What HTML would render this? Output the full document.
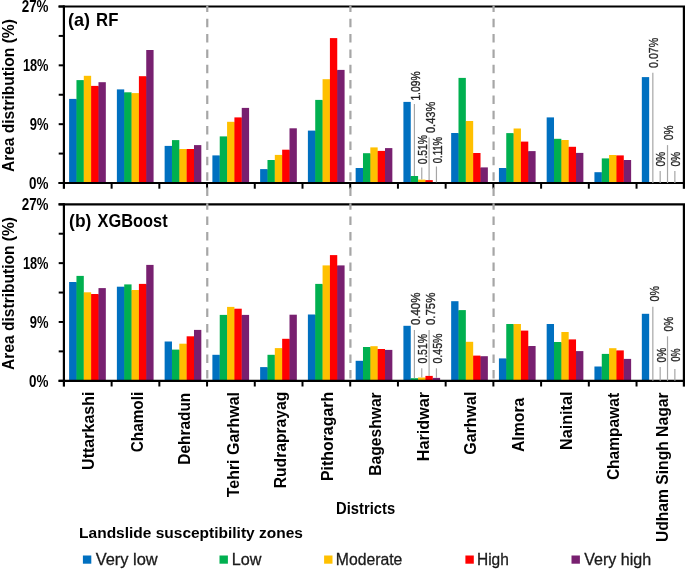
<!DOCTYPE html>
<html><head><meta charset="utf-8"><style>
html,body{margin:0;padding:0;background:#fff;}
svg{display:block;will-change:transform;}
text{font-family:'Liberation Sans',sans-serif;}
</style></head><body>
<svg width="685" height="569" viewBox="0 0 685 569">
<rect width="685" height="569" fill="#fff"/>
<rect x="69.12" y="98.9" width="7.34" height="84.1" fill="#0070C0"/>
<rect x="76.16" y="99.4" width="0.9" height="83.6" fill="#0070C0"/>
<rect x="76.46" y="80.1" width="7.34" height="102.9" fill="#00B050"/>
<rect x="83.5" y="80.6" width="0.9" height="102.4" fill="#00B050"/>
<rect x="83.8" y="75.8" width="7.34" height="107.2" fill="#FFC000"/>
<rect x="90.84" y="86.4" width="0.9" height="96.6" fill="#FFC000"/>
<rect x="91.14" y="85.9" width="7.34" height="97.1" fill="#FF0000"/>
<rect x="98.18" y="86.4" width="0.9" height="96.6" fill="#FF0000"/>
<rect x="98.48" y="82.2" width="7.34" height="100.8" fill="#782070"/>
<rect x="116.88" y="89.4" width="7.34" height="93.6" fill="#0070C0"/>
<rect x="123.92" y="92.8" width="0.9" height="90.2" fill="#0070C0"/>
<rect x="124.22" y="92.3" width="7.34" height="90.7" fill="#00B050"/>
<rect x="131.25" y="93.6" width="0.9" height="89.4" fill="#00B050"/>
<rect x="131.56" y="93.1" width="7.34" height="89.9" fill="#FFC000"/>
<rect x="138.59" y="93.6" width="0.9" height="89.4" fill="#FFC000"/>
<rect x="138.9" y="76.2" width="7.34" height="106.8" fill="#FF0000"/>
<rect x="145.94" y="76.7" width="0.9" height="106.3" fill="#FF0000"/>
<rect x="146.24" y="50" width="7.34" height="133" fill="#782070"/>
<rect x="164.63" y="145.9" width="7.34" height="37.1" fill="#0070C0"/>
<rect x="171.67" y="146.4" width="0.9" height="36.6" fill="#0070C0"/>
<rect x="171.97" y="140.1" width="7.34" height="42.9" fill="#00B050"/>
<rect x="179.01" y="149.5" width="0.9" height="33.5" fill="#00B050"/>
<rect x="179.31" y="149" width="7.34" height="34" fill="#FFC000"/>
<rect x="186.35" y="149.5" width="0.9" height="33.5" fill="#FFC000"/>
<rect x="186.65" y="149" width="7.34" height="34" fill="#FF0000"/>
<rect x="193.69" y="149.5" width="0.9" height="33.5" fill="#FF0000"/>
<rect x="193.99" y="145.1" width="7.34" height="37.9" fill="#782070"/>
<rect x="212.39" y="155.4" width="7.34" height="27.6" fill="#0070C0"/>
<rect x="219.43" y="155.9" width="0.9" height="27.1" fill="#0070C0"/>
<rect x="219.73" y="136.4" width="7.34" height="46.6" fill="#00B050"/>
<rect x="226.77" y="136.9" width="0.9" height="46.1" fill="#00B050"/>
<rect x="227.07" y="121.8" width="7.34" height="61.2" fill="#FFC000"/>
<rect x="234.11" y="122.3" width="0.9" height="60.7" fill="#FFC000"/>
<rect x="234.41" y="117.4" width="7.34" height="65.6" fill="#FF0000"/>
<rect x="241.45" y="117.9" width="0.9" height="65.1" fill="#FF0000"/>
<rect x="241.75" y="107.9" width="7.34" height="75.1" fill="#782070"/>
<rect x="260.14" y="169.1" width="7.34" height="13.9" fill="#0070C0"/>
<rect x="267.18" y="169.6" width="0.9" height="13.4" fill="#0070C0"/>
<rect x="267.48" y="160" width="7.34" height="23" fill="#00B050"/>
<rect x="274.52" y="160.5" width="0.9" height="22.5" fill="#00B050"/>
<rect x="274.82" y="154.9" width="7.34" height="28.1" fill="#FFC000"/>
<rect x="281.86" y="155.4" width="0.9" height="27.6" fill="#FFC000"/>
<rect x="282.16" y="149.7" width="7.34" height="33.3" fill="#FF0000"/>
<rect x="289.2" y="150.2" width="0.9" height="32.8" fill="#FF0000"/>
<rect x="289.5" y="128.3" width="7.34" height="54.7" fill="#782070"/>
<rect x="307.89" y="130.6" width="7.34" height="52.4" fill="#0070C0"/>
<rect x="314.93" y="131.1" width="0.9" height="51.9" fill="#0070C0"/>
<rect x="315.23" y="99.9" width="7.34" height="83.1" fill="#00B050"/>
<rect x="322.27" y="100.4" width="0.9" height="82.6" fill="#00B050"/>
<rect x="322.57" y="79.2" width="7.34" height="103.8" fill="#FFC000"/>
<rect x="329.61" y="79.7" width="0.9" height="103.3" fill="#FFC000"/>
<rect x="329.91" y="38.1" width="7.34" height="144.9" fill="#FF0000"/>
<rect x="336.95" y="70.4" width="0.9" height="112.6" fill="#FF0000"/>
<rect x="337.25" y="69.9" width="7.34" height="113.1" fill="#782070"/>
<rect x="355.65" y="168" width="7.34" height="15" fill="#0070C0"/>
<rect x="362.69" y="168.5" width="0.9" height="14.5" fill="#0070C0"/>
<rect x="362.99" y="153.2" width="7.34" height="29.8" fill="#00B050"/>
<rect x="370.03" y="153.7" width="0.9" height="29.3" fill="#00B050"/>
<rect x="370.33" y="147.4" width="7.34" height="35.6" fill="#FFC000"/>
<rect x="377.37" y="151.4" width="0.9" height="31.6" fill="#FFC000"/>
<rect x="377.67" y="150.9" width="7.34" height="32.1" fill="#FF0000"/>
<rect x="384.71" y="151.4" width="0.9" height="31.6" fill="#FF0000"/>
<rect x="385.01" y="148.1" width="7.34" height="34.9" fill="#782070"/>
<rect x="403.41" y="101.9" width="7.34" height="81.1" fill="#0070C0"/>
<rect x="410.44" y="176.5" width="0.9" height="6.5" fill="#0070C0"/>
<rect x="410.75" y="176" width="7.34" height="7" fill="#00B050"/>
<rect x="417.78" y="180.1" width="0.9" height="2.9" fill="#00B050"/>
<rect x="418.09" y="179.6" width="7.34" height="3.4" fill="#FFC000"/>
<rect x="425.12" y="180.6" width="0.9" height="2.4" fill="#FFC000"/>
<rect x="425.43" y="180.1" width="7.34" height="2.9" fill="#FF0000"/>
<rect x="432.46" y="182.8" width="0.9" height="0.2" fill="#FF0000"/>
<rect x="432.77" y="182.3" width="7.34" height="0.7" fill="#782070"/>
<rect x="451.16" y="133" width="7.34" height="50" fill="#0070C0"/>
<rect x="458.2" y="133.5" width="0.9" height="49.5" fill="#0070C0"/>
<rect x="458.5" y="77.9" width="7.34" height="105.1" fill="#00B050"/>
<rect x="465.54" y="121.5" width="0.9" height="61.5" fill="#00B050"/>
<rect x="465.84" y="121" width="7.34" height="62" fill="#FFC000"/>
<rect x="472.88" y="153.5" width="0.9" height="29.5" fill="#FFC000"/>
<rect x="473.18" y="153" width="7.34" height="30" fill="#FF0000"/>
<rect x="480.22" y="167.9" width="0.9" height="15.1" fill="#FF0000"/>
<rect x="480.52" y="167.4" width="7.34" height="15.6" fill="#782070"/>
<rect x="498.92" y="168" width="7.34" height="15" fill="#0070C0"/>
<rect x="505.95" y="168.5" width="0.9" height="14.5" fill="#0070C0"/>
<rect x="506.25" y="133.1" width="7.34" height="49.9" fill="#00B050"/>
<rect x="513.3" y="133.6" width="0.9" height="49.4" fill="#00B050"/>
<rect x="513.6" y="128.5" width="7.34" height="54.5" fill="#FFC000"/>
<rect x="520.64" y="142.1" width="0.9" height="40.9" fill="#FFC000"/>
<rect x="520.94" y="141.6" width="7.34" height="41.4" fill="#FF0000"/>
<rect x="527.98" y="151.6" width="0.9" height="31.4" fill="#FF0000"/>
<rect x="528.27" y="151.1" width="7.34" height="31.9" fill="#782070"/>
<rect x="546.67" y="117.4" width="7.34" height="65.6" fill="#0070C0"/>
<rect x="553.71" y="139.3" width="0.9" height="43.7" fill="#0070C0"/>
<rect x="554.01" y="138.8" width="7.34" height="44.2" fill="#00B050"/>
<rect x="561.05" y="140.5" width="0.9" height="42.5" fill="#00B050"/>
<rect x="561.35" y="140" width="7.34" height="43" fill="#FFC000"/>
<rect x="568.39" y="147.3" width="0.9" height="35.7" fill="#FFC000"/>
<rect x="568.69" y="146.8" width="7.34" height="36.2" fill="#FF0000"/>
<rect x="575.73" y="153.4" width="0.9" height="29.6" fill="#FF0000"/>
<rect x="576.03" y="152.9" width="7.34" height="30.1" fill="#782070"/>
<rect x="594.43" y="172.2" width="7.34" height="10.8" fill="#0070C0"/>
<rect x="601.47" y="172.7" width="0.9" height="10.3" fill="#0070C0"/>
<rect x="601.77" y="158.4" width="7.34" height="24.6" fill="#00B050"/>
<rect x="608.81" y="158.9" width="0.9" height="24.1" fill="#00B050"/>
<rect x="609.11" y="155" width="7.34" height="28" fill="#FFC000"/>
<rect x="616.15" y="155.9" width="0.9" height="27.1" fill="#FFC000"/>
<rect x="616.45" y="155.4" width="7.34" height="27.6" fill="#FF0000"/>
<rect x="623.49" y="160.5" width="0.9" height="22.5" fill="#FF0000"/>
<rect x="623.79" y="160" width="7.34" height="23" fill="#782070"/>
<rect x="641.83" y="77.1" width="7.34" height="105.9" fill="#0070C0"/>
<rect x="649.17" y="182.5" width="7.34" height="0.5" fill="#00B050"/>
<rect x="69.12" y="282" width="7.34" height="98.8" fill="#0070C0"/>
<rect x="76.16" y="282.5" width="0.9" height="98.3" fill="#0070C0"/>
<rect x="76.46" y="275.9" width="7.34" height="104.9" fill="#00B050"/>
<rect x="83.5" y="292.8" width="0.9" height="88" fill="#00B050"/>
<rect x="83.8" y="292.3" width="7.34" height="88.5" fill="#FFC000"/>
<rect x="90.84" y="294.5" width="0.9" height="86.3" fill="#FFC000"/>
<rect x="91.14" y="294" width="7.34" height="86.8" fill="#FF0000"/>
<rect x="98.18" y="294.5" width="0.9" height="86.3" fill="#FF0000"/>
<rect x="98.48" y="288.1" width="7.34" height="92.7" fill="#782070"/>
<rect x="116.88" y="286.7" width="7.34" height="94.1" fill="#0070C0"/>
<rect x="123.92" y="287.2" width="0.9" height="93.6" fill="#0070C0"/>
<rect x="124.22" y="284.4" width="7.34" height="96.4" fill="#00B050"/>
<rect x="131.25" y="290.5" width="0.9" height="90.3" fill="#00B050"/>
<rect x="131.56" y="290" width="7.34" height="90.8" fill="#FFC000"/>
<rect x="138.59" y="290.5" width="0.9" height="90.3" fill="#FFC000"/>
<rect x="138.9" y="283.9" width="7.34" height="96.9" fill="#FF0000"/>
<rect x="145.94" y="284.4" width="0.9" height="96.4" fill="#FF0000"/>
<rect x="146.24" y="264.9" width="7.34" height="115.9" fill="#782070"/>
<rect x="164.63" y="341.5" width="7.34" height="39.3" fill="#0070C0"/>
<rect x="171.67" y="350.1" width="0.9" height="30.7" fill="#0070C0"/>
<rect x="171.97" y="349.6" width="7.34" height="31.2" fill="#00B050"/>
<rect x="179.01" y="350.1" width="0.9" height="30.7" fill="#00B050"/>
<rect x="179.31" y="343.7" width="7.34" height="37.1" fill="#FFC000"/>
<rect x="186.35" y="344.2" width="0.9" height="36.6" fill="#FFC000"/>
<rect x="186.65" y="336.3" width="7.34" height="44.5" fill="#FF0000"/>
<rect x="193.69" y="336.8" width="0.9" height="44" fill="#FF0000"/>
<rect x="193.99" y="329.9" width="7.34" height="50.9" fill="#782070"/>
<rect x="212.39" y="354.8" width="7.34" height="26" fill="#0070C0"/>
<rect x="219.43" y="355.3" width="0.9" height="25.5" fill="#0070C0"/>
<rect x="219.73" y="314.9" width="7.34" height="65.9" fill="#00B050"/>
<rect x="226.77" y="315.4" width="0.9" height="65.4" fill="#00B050"/>
<rect x="227.07" y="306.9" width="7.34" height="73.9" fill="#FFC000"/>
<rect x="234.11" y="309.2" width="0.9" height="71.6" fill="#FFC000"/>
<rect x="234.41" y="308.7" width="7.34" height="72.1" fill="#FF0000"/>
<rect x="241.45" y="315.4" width="0.9" height="65.4" fill="#FF0000"/>
<rect x="241.75" y="314.9" width="7.34" height="65.9" fill="#782070"/>
<rect x="260.14" y="367.1" width="7.34" height="13.7" fill="#0070C0"/>
<rect x="267.18" y="367.6" width="0.9" height="13.2" fill="#0070C0"/>
<rect x="267.48" y="354.8" width="7.34" height="26" fill="#00B050"/>
<rect x="274.52" y="355.3" width="0.9" height="25.5" fill="#00B050"/>
<rect x="274.82" y="348.1" width="7.34" height="32.7" fill="#FFC000"/>
<rect x="281.86" y="348.6" width="0.9" height="32.2" fill="#FFC000"/>
<rect x="282.16" y="338.8" width="7.34" height="42" fill="#FF0000"/>
<rect x="289.2" y="339.3" width="0.9" height="41.5" fill="#FF0000"/>
<rect x="289.5" y="314.7" width="7.34" height="66.1" fill="#782070"/>
<rect x="307.89" y="314.5" width="7.34" height="66.3" fill="#0070C0"/>
<rect x="314.93" y="315" width="0.9" height="65.8" fill="#0070C0"/>
<rect x="315.23" y="283.9" width="7.34" height="96.9" fill="#00B050"/>
<rect x="322.27" y="284.4" width="0.9" height="96.4" fill="#00B050"/>
<rect x="322.57" y="265.4" width="7.34" height="115.4" fill="#FFC000"/>
<rect x="329.61" y="265.9" width="0.9" height="114.9" fill="#FFC000"/>
<rect x="329.91" y="255.1" width="7.34" height="125.7" fill="#FF0000"/>
<rect x="336.95" y="265.9" width="0.9" height="114.9" fill="#FF0000"/>
<rect x="337.25" y="265.4" width="7.34" height="115.4" fill="#782070"/>
<rect x="355.65" y="360.8" width="7.34" height="20" fill="#0070C0"/>
<rect x="362.69" y="361.3" width="0.9" height="19.5" fill="#0070C0"/>
<rect x="362.99" y="347" width="7.34" height="33.8" fill="#00B050"/>
<rect x="370.03" y="347.5" width="0.9" height="33.3" fill="#00B050"/>
<rect x="370.33" y="346.2" width="7.34" height="34.6" fill="#FFC000"/>
<rect x="377.37" y="349.5" width="0.9" height="31.3" fill="#FFC000"/>
<rect x="377.67" y="349" width="7.34" height="31.8" fill="#FF0000"/>
<rect x="384.71" y="350.4" width="0.9" height="30.4" fill="#FF0000"/>
<rect x="385.01" y="349.9" width="7.34" height="30.9" fill="#782070"/>
<rect x="403.41" y="325.8" width="7.34" height="55" fill="#0070C0"/>
<rect x="410.44" y="378.7" width="0.9" height="2.1" fill="#0070C0"/>
<rect x="410.75" y="378.2" width="7.34" height="2.6" fill="#00B050"/>
<rect x="417.78" y="378.7" width="0.9" height="2.1" fill="#00B050"/>
<rect x="418.09" y="377.5" width="7.34" height="3.3" fill="#FFC000"/>
<rect x="425.12" y="378" width="0.9" height="2.8" fill="#FFC000"/>
<rect x="425.43" y="375.9" width="7.34" height="4.9" fill="#FF0000"/>
<rect x="432.46" y="378.4" width="0.9" height="2.4" fill="#FF0000"/>
<rect x="432.77" y="377.9" width="7.34" height="2.9" fill="#782070"/>
<rect x="451.16" y="301.2" width="7.34" height="79.6" fill="#0070C0"/>
<rect x="458.2" y="310.6" width="0.9" height="70.2" fill="#0070C0"/>
<rect x="458.5" y="310.1" width="7.34" height="70.7" fill="#00B050"/>
<rect x="465.54" y="342.3" width="0.9" height="38.5" fill="#00B050"/>
<rect x="465.84" y="341.8" width="7.34" height="39" fill="#FFC000"/>
<rect x="472.88" y="356.1" width="0.9" height="24.7" fill="#FFC000"/>
<rect x="473.18" y="355.6" width="7.34" height="25.2" fill="#FF0000"/>
<rect x="480.22" y="356.7" width="0.9" height="24.1" fill="#FF0000"/>
<rect x="480.52" y="356.2" width="7.34" height="24.6" fill="#782070"/>
<rect x="498.92" y="358.4" width="7.34" height="22.4" fill="#0070C0"/>
<rect x="505.95" y="358.9" width="0.9" height="21.9" fill="#0070C0"/>
<rect x="506.25" y="324" width="7.34" height="56.8" fill="#00B050"/>
<rect x="513.3" y="324.5" width="0.9" height="56.3" fill="#00B050"/>
<rect x="513.6" y="324" width="7.34" height="56.8" fill="#FFC000"/>
<rect x="520.64" y="331.1" width="0.9" height="49.7" fill="#FFC000"/>
<rect x="520.94" y="330.6" width="7.34" height="50.2" fill="#FF0000"/>
<rect x="527.98" y="346.5" width="0.9" height="34.3" fill="#FF0000"/>
<rect x="528.27" y="346" width="7.34" height="34.8" fill="#782070"/>
<rect x="546.67" y="324" width="7.34" height="56.8" fill="#0070C0"/>
<rect x="553.71" y="342.5" width="0.9" height="38.3" fill="#0070C0"/>
<rect x="554.01" y="342" width="7.34" height="38.8" fill="#00B050"/>
<rect x="561.05" y="342.5" width="0.9" height="38.3" fill="#00B050"/>
<rect x="561.35" y="332" width="7.34" height="48.8" fill="#FFC000"/>
<rect x="568.39" y="339.9" width="0.9" height="40.9" fill="#FFC000"/>
<rect x="568.69" y="339.4" width="7.34" height="41.4" fill="#FF0000"/>
<rect x="575.73" y="351.6" width="0.9" height="29.2" fill="#FF0000"/>
<rect x="576.03" y="351.1" width="7.34" height="29.7" fill="#782070"/>
<rect x="594.43" y="366.5" width="7.34" height="14.3" fill="#0070C0"/>
<rect x="601.47" y="367" width="0.9" height="13.8" fill="#0070C0"/>
<rect x="601.77" y="353.9" width="7.34" height="26.9" fill="#00B050"/>
<rect x="608.81" y="354.4" width="0.9" height="26.4" fill="#00B050"/>
<rect x="609.11" y="348.2" width="7.34" height="32.6" fill="#FFC000"/>
<rect x="616.15" y="350.9" width="0.9" height="29.9" fill="#FFC000"/>
<rect x="616.45" y="350.4" width="7.34" height="30.4" fill="#FF0000"/>
<rect x="623.49" y="359.4" width="0.9" height="21.4" fill="#FF0000"/>
<rect x="623.79" y="358.9" width="7.34" height="21.9" fill="#782070"/>
<rect x="641.83" y="313.8" width="7.34" height="67" fill="#0070C0"/>
<text x="419.8" y="71.4" transform="rotate(-90 419.8 71.4)" text-anchor="end" font-size="13.2" textLength="29.2" lengthAdjust="spacingAndGlyphs" fill="#262626" stroke="#262626" stroke-width="0.35">1.09%</text>
<text x="427.2" y="134.9" transform="rotate(-90 427.2 134.9)" text-anchor="end" font-size="13.2" textLength="29.4" lengthAdjust="spacingAndGlyphs" fill="#262626" stroke="#262626" stroke-width="0.35">0.51%</text>
<text x="434.8" y="101.6" transform="rotate(-90 434.8 101.6)" text-anchor="end" font-size="13.2" textLength="31.5" lengthAdjust="spacingAndGlyphs" fill="#262626" stroke="#262626" stroke-width="0.35">0.43%</text>
<text x="441.8" y="136.9" transform="rotate(-90 441.8 136.9)" text-anchor="end" font-size="13.2" textLength="26.4" lengthAdjust="spacingAndGlyphs" fill="#262626" stroke="#262626" stroke-width="0.35">0.11%</text>
<text x="657.9" y="37.8" transform="rotate(-90 657.9 37.8)" text-anchor="end" font-size="13.2" textLength="30.1" lengthAdjust="spacingAndGlyphs" fill="#262626" stroke="#262626" stroke-width="0.35">0.07%</text>
<text x="665.5" y="151.8" transform="rotate(-90 665.5 151.8)" text-anchor="end" font-size="13.2" textLength="14.8" lengthAdjust="spacingAndGlyphs" fill="#262626" stroke="#262626" stroke-width="0.35">0%</text>
<text x="673" y="125.4" transform="rotate(-90 673 125.4)" text-anchor="end" font-size="13.2" textLength="14.8" lengthAdjust="spacingAndGlyphs" fill="#262626" stroke="#262626" stroke-width="0.35">0%</text>
<text x="680.4" y="151.8" transform="rotate(-90 680.4 151.8)" text-anchor="end" font-size="13.2" textLength="14.8" lengthAdjust="spacingAndGlyphs" fill="#262626" stroke="#262626" stroke-width="0.35">0%</text>
<text x="420.5" y="292.6" transform="rotate(-90 420.5 292.6)" text-anchor="end" font-size="13.2" textLength="32.4" lengthAdjust="spacingAndGlyphs" fill="#262626" stroke="#262626" stroke-width="0.35">0.40%</text>
<text x="427.2" y="334" transform="rotate(-90 427.2 334)" text-anchor="end" font-size="13.2" textLength="29.6" lengthAdjust="spacingAndGlyphs" fill="#262626" stroke="#262626" stroke-width="0.35">0.51%</text>
<text x="435.3" y="292.6" transform="rotate(-90 435.3 292.6)" text-anchor="end" font-size="13.2" textLength="32.4" lengthAdjust="spacingAndGlyphs" fill="#262626" stroke="#262626" stroke-width="0.35">0.75%</text>
<text x="441.7" y="333.4" transform="rotate(-90 441.7 333.4)" text-anchor="end" font-size="13.2" textLength="30.2" lengthAdjust="spacingAndGlyphs" fill="#262626" stroke="#262626" stroke-width="0.35">0.45%</text>
<text x="658.7" y="286" transform="rotate(-90 658.7 286)" text-anchor="end" font-size="13.2" textLength="15.4" lengthAdjust="spacingAndGlyphs" fill="#262626" stroke="#262626" stroke-width="0.35">0%</text>
<text x="665.8" y="347.8" transform="rotate(-90 665.8 347.8)" text-anchor="end" font-size="13.2" textLength="14.6" lengthAdjust="spacingAndGlyphs" fill="#262626" stroke="#262626" stroke-width="0.35">0%</text>
<text x="673.2" y="316.8" transform="rotate(-90 673.2 316.8)" text-anchor="end" font-size="13.2" textLength="14.6" lengthAdjust="spacingAndGlyphs" fill="#262626" stroke="#262626" stroke-width="0.35">0%</text>
<text x="680.2" y="348.4" transform="rotate(-90 680.2 348.4)" text-anchor="end" font-size="13.2" textLength="13" lengthAdjust="spacingAndGlyphs" fill="#262626" stroke="#262626" stroke-width="0.35">0%</text>
<line x1="58.5" y1="6.5" x2="685" y2="6.5" stroke="#000" stroke-width="2.2"/>
<line x1="683.9" y1="6.5" x2="683.9" y2="188.8" stroke="#000" stroke-width="2.2"/>
<line x1="63.9" y1="5.4" x2="63.9" y2="188.8" stroke="#000" stroke-width="2.2"/>
<line x1="58.5" y1="183" x2="685" y2="183" stroke="#000" stroke-width="2.2"/>
<line x1="58.7" y1="183" x2="63.9" y2="183" stroke="#000" stroke-width="2"/>
<line x1="58.7" y1="153.58" x2="63.9" y2="153.58" stroke="#000" stroke-width="2"/>
<line x1="58.7" y1="124.17" x2="63.9" y2="124.17" stroke="#000" stroke-width="2"/>
<line x1="58.7" y1="94.75" x2="63.9" y2="94.75" stroke="#000" stroke-width="2"/>
<line x1="58.7" y1="65.33" x2="63.9" y2="65.33" stroke="#000" stroke-width="2"/>
<line x1="58.7" y1="35.92" x2="63.9" y2="35.92" stroke="#000" stroke-width="2"/>
<line x1="58.7" y1="6.5" x2="63.9" y2="6.5" stroke="#000" stroke-width="2"/>
<line x1="111.62" y1="183" x2="111.62" y2="188.7" stroke="#000" stroke-width="2"/>
<line x1="159.34" y1="183" x2="159.34" y2="188.7" stroke="#000" stroke-width="2"/>
<line x1="207.06" y1="183" x2="207.06" y2="188.7" stroke="#000" stroke-width="2"/>
<line x1="254.78" y1="183" x2="254.78" y2="188.7" stroke="#000" stroke-width="2"/>
<line x1="302.5" y1="183" x2="302.5" y2="188.7" stroke="#000" stroke-width="2"/>
<line x1="350.22" y1="183" x2="350.22" y2="188.7" stroke="#000" stroke-width="2"/>
<line x1="397.94" y1="183" x2="397.94" y2="188.7" stroke="#000" stroke-width="2"/>
<line x1="445.66" y1="183" x2="445.66" y2="188.7" stroke="#000" stroke-width="2"/>
<line x1="493.38" y1="183" x2="493.38" y2="188.7" stroke="#000" stroke-width="2"/>
<line x1="541.1" y1="183" x2="541.1" y2="188.7" stroke="#000" stroke-width="2"/>
<line x1="588.82" y1="183" x2="588.82" y2="188.7" stroke="#000" stroke-width="2"/>
<line x1="636.54" y1="183" x2="636.54" y2="188.7" stroke="#000" stroke-width="2"/>
<text x="48.5" y="188.9" text-anchor="end" font-size="16.2" font-weight="bold" textLength="19.4" lengthAdjust="spacingAndGlyphs">0%</text>
<text x="48.5" y="130.07" text-anchor="end" font-size="16.2" font-weight="bold" textLength="18.7" lengthAdjust="spacingAndGlyphs">9%</text>
<text x="48.5" y="71.23" text-anchor="end" font-size="16.2" font-weight="bold" textLength="25.6" lengthAdjust="spacingAndGlyphs">18%</text>
<text x="48.5" y="12.4" text-anchor="end" font-size="16.2" font-weight="bold" textLength="26.8" lengthAdjust="spacingAndGlyphs">27%</text>
<line x1="58.5" y1="204.3" x2="685" y2="204.3" stroke="#000" stroke-width="2.2"/>
<line x1="683.9" y1="204.3" x2="683.9" y2="386.6" stroke="#000" stroke-width="2.2"/>
<line x1="63.9" y1="203.2" x2="63.9" y2="386.6" stroke="#000" stroke-width="2.2"/>
<line x1="58.5" y1="380.8" x2="685" y2="380.8" stroke="#000" stroke-width="2.2"/>
<line x1="58.7" y1="380.8" x2="63.9" y2="380.8" stroke="#000" stroke-width="2"/>
<line x1="58.7" y1="351.38" x2="63.9" y2="351.38" stroke="#000" stroke-width="2"/>
<line x1="58.7" y1="321.97" x2="63.9" y2="321.97" stroke="#000" stroke-width="2"/>
<line x1="58.7" y1="292.55" x2="63.9" y2="292.55" stroke="#000" stroke-width="2"/>
<line x1="58.7" y1="263.13" x2="63.9" y2="263.13" stroke="#000" stroke-width="2"/>
<line x1="58.7" y1="233.72" x2="63.9" y2="233.72" stroke="#000" stroke-width="2"/>
<line x1="58.7" y1="204.3" x2="63.9" y2="204.3" stroke="#000" stroke-width="2"/>
<line x1="111.62" y1="380.8" x2="111.62" y2="386.5" stroke="#000" stroke-width="2"/>
<line x1="159.34" y1="380.8" x2="159.34" y2="386.5" stroke="#000" stroke-width="2"/>
<line x1="207.06" y1="380.8" x2="207.06" y2="386.5" stroke="#000" stroke-width="2"/>
<line x1="254.78" y1="380.8" x2="254.78" y2="386.5" stroke="#000" stroke-width="2"/>
<line x1="302.5" y1="380.8" x2="302.5" y2="386.5" stroke="#000" stroke-width="2"/>
<line x1="350.22" y1="380.8" x2="350.22" y2="386.5" stroke="#000" stroke-width="2"/>
<line x1="397.94" y1="380.8" x2="397.94" y2="386.5" stroke="#000" stroke-width="2"/>
<line x1="445.66" y1="380.8" x2="445.66" y2="386.5" stroke="#000" stroke-width="2"/>
<line x1="493.38" y1="380.8" x2="493.38" y2="386.5" stroke="#000" stroke-width="2"/>
<line x1="541.1" y1="380.8" x2="541.1" y2="386.5" stroke="#000" stroke-width="2"/>
<line x1="588.82" y1="380.8" x2="588.82" y2="386.5" stroke="#000" stroke-width="2"/>
<line x1="636.54" y1="380.8" x2="636.54" y2="386.5" stroke="#000" stroke-width="2"/>
<text x="48.5" y="386.7" text-anchor="end" font-size="16.2" font-weight="bold" textLength="19.4" lengthAdjust="spacingAndGlyphs">0%</text>
<text x="48.5" y="327.87" text-anchor="end" font-size="16.2" font-weight="bold" textLength="18.7" lengthAdjust="spacingAndGlyphs">9%</text>
<text x="48.5" y="269.03" text-anchor="end" font-size="16.2" font-weight="bold" textLength="25.6" lengthAdjust="spacingAndGlyphs">18%</text>
<text x="48.5" y="210.2" text-anchor="end" font-size="16.2" font-weight="bold" textLength="26.8" lengthAdjust="spacingAndGlyphs">27%</text>
<line x1="414.42" y1="104" x2="414.42" y2="176" stroke="#A6A6A6" stroke-width="1.2"/>
<line x1="421.76" y1="167.5" x2="421.76" y2="179.6" stroke="#A6A6A6" stroke-width="1.2"/>
<line x1="429.1" y1="137.6" x2="429.1" y2="180.1" stroke="#A6A6A6" stroke-width="1.2"/>
<line x1="436.44" y1="166.5" x2="436.44" y2="182.3" stroke="#A6A6A6" stroke-width="1.2"/>
<line x1="652.84" y1="72.8" x2="652.84" y2="183" stroke="#A6A6A6" stroke-width="1.2"/>
<line x1="660.18" y1="171.1" x2="660.18" y2="183" stroke="#A6A6A6" stroke-width="1.2"/>
<line x1="667.52" y1="145.1" x2="667.52" y2="183" stroke="#A6A6A6" stroke-width="1.2"/>
<line x1="674.86" y1="171.1" x2="674.86" y2="183" stroke="#A6A6A6" stroke-width="1.2"/>
<line x1="414.42" y1="330" x2="414.42" y2="378.2" stroke="#A6A6A6" stroke-width="1.2"/>
<line x1="421.76" y1="368.3" x2="421.76" y2="377.5" stroke="#A6A6A6" stroke-width="1.2"/>
<line x1="429.1" y1="330" x2="429.1" y2="375.9" stroke="#A6A6A6" stroke-width="1.2"/>
<line x1="436.44" y1="368.3" x2="436.44" y2="377.9" stroke="#A6A6A6" stroke-width="1.2"/>
<line x1="652.84" y1="306.7" x2="652.84" y2="380.8" stroke="#A6A6A6" stroke-width="1.2"/>
<line x1="660.18" y1="367" x2="660.18" y2="380.8" stroke="#A6A6A6" stroke-width="1.2"/>
<line x1="667.52" y1="336.3" x2="667.52" y2="380.8" stroke="#A6A6A6" stroke-width="1.2"/>
<line x1="674.86" y1="368.9" x2="674.86" y2="380.8" stroke="#A6A6A6" stroke-width="1.2"/>
<line x1="207.26" y1="5.5" x2="207.26" y2="197" stroke="#A6A6A6" stroke-width="2.2" stroke-dasharray="8.5 6.84" stroke-dashoffset="2.1"/>
<line x1="207.26" y1="203.3" x2="207.26" y2="380.8" stroke="#A6A6A6" stroke-width="2.2" stroke-dasharray="8.5 6.84" stroke-dashoffset="2.1"/>
<line x1="350.42" y1="5.5" x2="350.42" y2="197" stroke="#A6A6A6" stroke-width="2.2" stroke-dasharray="8.5 6.84" stroke-dashoffset="2.1"/>
<line x1="350.42" y1="203.3" x2="350.42" y2="380.8" stroke="#A6A6A6" stroke-width="2.2" stroke-dasharray="8.5 6.84" stroke-dashoffset="2.1"/>
<line x1="493.58" y1="5.5" x2="493.58" y2="197" stroke="#A6A6A6" stroke-width="2.2" stroke-dasharray="8.5 6.84" stroke-dashoffset="2.1"/>
<line x1="493.58" y1="203.3" x2="493.58" y2="380.8" stroke="#A6A6A6" stroke-width="2.2" stroke-dasharray="8.5 6.84" stroke-dashoffset="2.1"/>
<text x="67.9" y="25.9" font-size="18.5" font-weight="bold" textLength="22" lengthAdjust="spacingAndGlyphs">(a)</text>
<text x="96.1" y="25.9" font-size="18.5" font-weight="bold" textLength="22.3" lengthAdjust="spacingAndGlyphs">RF</text>
<text x="69.1" y="226.9" font-size="18.5" font-weight="bold" textLength="22.2" lengthAdjust="spacingAndGlyphs">(b)</text>
<text x="97.6" y="226.9" font-size="18.5" font-weight="bold" textLength="70.1" lengthAdjust="spacingAndGlyphs">XGBoost</text>
<text x="13.7" y="19.2" transform="rotate(-90 13.7 19.2)" text-anchor="end" font-size="17" font-weight="bold" textLength="152.9" lengthAdjust="spacingAndGlyphs">Area distribution (%)</text>
<text x="13.7" y="217" transform="rotate(-90 13.7 217)" text-anchor="end" font-size="17" font-weight="bold" textLength="152.9" lengthAdjust="spacingAndGlyphs">Area distribution (%)</text>
<text x="94" y="391.5" transform="rotate(-90 94 391.5)" text-anchor="end" font-size="15.6" font-weight="bold" textLength="78.4" lengthAdjust="spacingAndGlyphs">Uttarkashi</text>
<text x="142.7" y="391.8" transform="rotate(-90 142.7 391.8)" text-anchor="end" font-size="15.6" font-weight="bold" textLength="60.4" lengthAdjust="spacingAndGlyphs">Chamoli</text>
<text x="189.7" y="392.7" transform="rotate(-90 189.7 392.7)" text-anchor="end" font-size="15.6" font-weight="bold" textLength="72" lengthAdjust="spacingAndGlyphs">Dehradun</text>
<text x="238.8" y="392" transform="rotate(-90 238.8 392)" text-anchor="end" font-size="15.6" font-weight="bold" textLength="105.3" lengthAdjust="spacingAndGlyphs">Tehri Garhwal</text>
<text x="285.8" y="391.8" transform="rotate(-90 285.8 391.8)" text-anchor="end" font-size="15.6" font-weight="bold" textLength="96.4" lengthAdjust="spacingAndGlyphs">Rudraprayag</text>
<text x="332.9" y="391.8" transform="rotate(-90 332.9 391.8)" text-anchor="end" font-size="15.6" font-weight="bold" textLength="89.3" lengthAdjust="spacingAndGlyphs">Pithoragarh</text>
<text x="380.9" y="392.3" transform="rotate(-90 380.9 392.3)" text-anchor="end" font-size="15.6" font-weight="bold" textLength="83.5" lengthAdjust="spacingAndGlyphs">Bageshwar</text>
<text x="428.7" y="392" transform="rotate(-90 428.7 392)" text-anchor="end" font-size="15.6" font-weight="bold" textLength="69.2" lengthAdjust="spacingAndGlyphs">Haridwar</text>
<text x="476.2" y="391.6" transform="rotate(-90 476.2 391.6)" text-anchor="end" font-size="15.6" font-weight="bold" textLength="63.1" lengthAdjust="spacingAndGlyphs">Garhwal</text>
<text x="524.4" y="397.7" transform="rotate(-90 524.4 397.7)" text-anchor="end" font-size="15.6" font-weight="bold" textLength="54.3" lengthAdjust="spacingAndGlyphs">Almora</text>
<text x="571.7" y="391.5" transform="rotate(-90 571.7 391.5)" text-anchor="end" font-size="15.6" font-weight="bold" textLength="58.5" lengthAdjust="spacingAndGlyphs">Nainital</text>
<text x="619.3" y="392.9" transform="rotate(-90 619.3 392.9)" text-anchor="end" font-size="15.6" font-weight="bold" textLength="87.2" lengthAdjust="spacingAndGlyphs">Champawat</text>
<text x="667.7" y="392.5" transform="rotate(-90 667.7 392.5)" text-anchor="end" font-size="15.6" font-weight="bold" textLength="149.6" lengthAdjust="spacingAndGlyphs">Udham Singh Nagar</text>
<text x="336.1" y="513.9" font-size="16.8" font-weight="bold" textLength="59.1" lengthAdjust="spacingAndGlyphs">Districts</text>
<text x="79.1" y="538.4" font-size="15.5" font-weight="bold" textLength="223.8" lengthAdjust="spacingAndGlyphs">Landslide susceptibility zones</text>
<rect x="82.9" y="555.5" width="8.4" height="8.2" fill="#0070C0"/>
<text x="95.7" y="564.7" font-size="16.5" textLength="62" lengthAdjust="spacingAndGlyphs" fill="#1a1a1a" stroke="#1a1a1a" stroke-width="0.3">Very low</text>
<rect x="219.5" y="555.5" width="8.4" height="8.2" fill="#00B050"/>
<text x="231.7" y="564.7" font-size="16.5" textLength="29.7" lengthAdjust="spacingAndGlyphs" fill="#1a1a1a" stroke="#1a1a1a" stroke-width="0.3">Low</text>
<rect x="324.1" y="555.5" width="8.4" height="8.2" fill="#FFC000"/>
<text x="335.8" y="564.7" font-size="16.5" textLength="66.6" lengthAdjust="spacingAndGlyphs" fill="#1a1a1a" stroke="#1a1a1a" stroke-width="0.3">Moderate</text>
<rect x="465.4" y="555.5" width="8.4" height="8.2" fill="#FF0000"/>
<text x="477" y="564.7" font-size="16.5" textLength="31.8" lengthAdjust="spacingAndGlyphs" fill="#1a1a1a" stroke="#1a1a1a" stroke-width="0.3">High</text>
<rect x="571.5" y="555.5" width="8.4" height="8.2" fill="#782070"/>
<text x="584.2" y="564.7" font-size="16.5" textLength="67" lengthAdjust="spacingAndGlyphs" fill="#1a1a1a" stroke="#1a1a1a" stroke-width="0.3">Very high</text>
</svg>
</body></html>
